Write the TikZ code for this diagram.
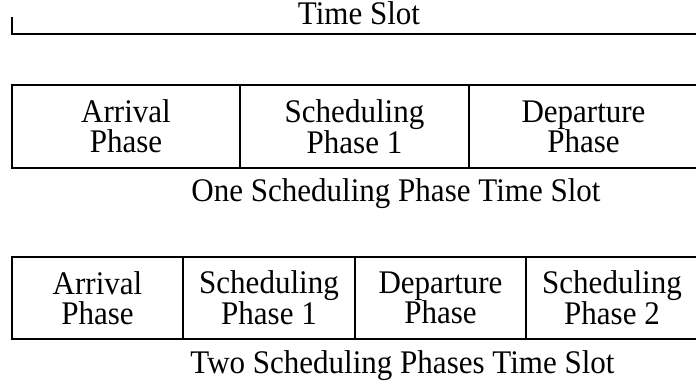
\documentclass[tikz,border=0pt]{standalone}
\usepackage{fontspec}
\setmainfont[FakeStretch=0.94]{Liberation Serif}
\begin{document}
\begin{tikzpicture}[x=1pt,y=-1pt,
  cell/.style={draw, line width=2pt, rectangle, inner sep=0pt, align=center,
    font=\fontsize{33}{30}\selectfont},
  caption/.style={inner sep=0pt, anchor=base, font=\fontsize{33}{30}\selectfont}]
\clip (0,0) rectangle (696,385);
% time slot line
\node[caption] (ts) at (359,25) {Time Slot};
\coordinate (tt) at (12,17);
\coordinate (tb) at (12,34);
\coordinate (tr) at (700,34);
\draw[line width=2pt] (tt) -- (tb) -- (tr);
% one scheduling phase
\node[cell, minimum width=228pt, minimum height=83pt] (a1) at (126,126.5) {Arrival\\Phase};
\node[cell, minimum width=229pt, minimum height=83pt] (s1) at (354.5,126.5) {Scheduling\\Phase 1};
\node[cell, minimum width=229pt, minimum height=83pt] (d1) at (583.5,126.5) {Departure\\Phase};
\node[caption] (c1) at (396,201) {One Scheduling Phase Time Slot};
% two scheduling phases
\node[cell, minimum width=171pt, minimum height=82pt] (a2) at (97.5,298) {Arrival\\Phase};
\node[cell, minimum width=172pt, minimum height=82pt] (s2) at (269,298) {Scheduling\\Phase 1};
\node[cell, minimum width=171pt, minimum height=82pt] (d2) at (440.5,298) {Departure\\Phase};
\node[cell, minimum width=172pt, minimum height=82pt] (e2) at (612,298) {Scheduling\\Phase 2};
\node[caption] (c2) at (402.5,373) {Two Scheduling Phases Time Slot};
\end{tikzpicture}
\end{document}
